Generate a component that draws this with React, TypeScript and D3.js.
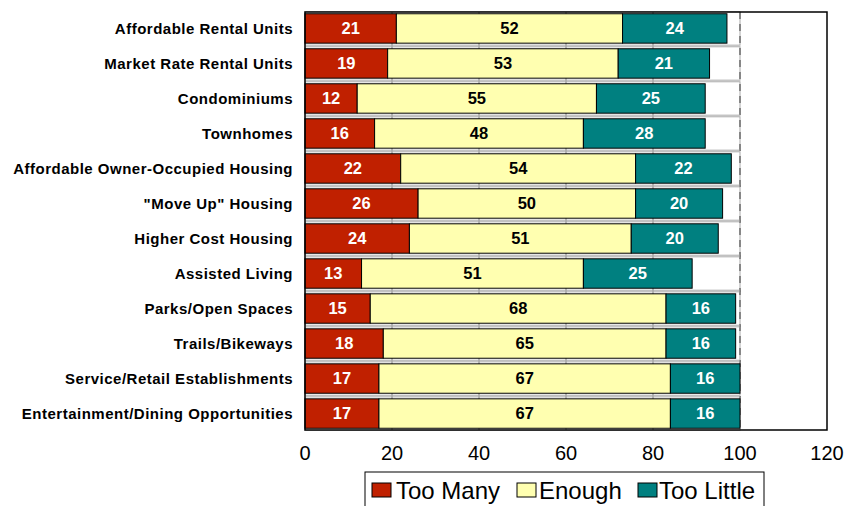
import React from 'react';
import * as d3 from 'd3';

// survey answers, percent of respondents
const categories = [
  'Affordable Rental Units',
  'Market Rate Rental Units',
  'Condominiums',
  'Townhomes',
  'Affordable Owner-Occupied Housing',
  '"Move Up" Housing',
  'Higher Cost Housing',
  'Assisted Living',
  'Parks/Open Spaces',
  'Trails/Bikeways',
  'Service/Retail Establishments',
  'Entertainment/Dining Opportunities',
];
const tooMany = [21, 19, 12, 16, 22, 26, 24, 13, 15, 18, 17, 17];
const enough = [52, 53, 55, 48, 54, 50, 51, 51, 68, 65, 67, 67];
const tooLittle = [24, 21, 25, 28, 22, 20, 20, 25, 16, 16, 16, 16];
const seriesNames = ['Too Many', 'Enough', 'Too Little'];
const xTicks = [0, 20, 40, 60, 80, 100, 120];

const colors = ['#C02000', '#FFFFB0', '#008080'];
const labelColors = ['#fff', '#000', '#fff'];
const font = 'Liberation Sans, Arial, sans-serif';

const W = 849;
const H = 506;
const plot = { left: 305, right: 827, top: 12, bottom: 430 };

export default function App() {
  const x = d3.scaleLinear().domain([0, 120]).range([plot.left, plot.right]);
  const y = d3.scaleBand<string>()
    .domain(categories)
    .range([plot.top, plot.bottom])
    .paddingInner(0.16)
    .paddingOuter(0.05);

  const rows = categories.map((c, i) => ({ category: c, 'Too Many': tooMany[i], Enough: enough[i], 'Too Little': tooLittle[i] }));
  const stacked = d3.stack<any>().keys(seriesNames)(rows);
  const bw = y.bandwidth();

  // legend layout
  const legendItems = [
    { name: seriesNames[0], sx: 372, tx: 396 },
    { name: seriesNames[1], sx: 517, tx: 539 },
    { name: seriesNames[2], sx: 638, tx: 659 },
  ];

  return (
    <div style={{ position: 'absolute', left: 0, top: 0 }}>
      <svg width={W} height={H} style={{ display: 'block', background: '#fff' }} fontFamily={font}>
        {/* gridlines */}
        {xTicks.filter(t => t > 0 && t < 100).map(t => (
          <line key={t} x1={x(t)} x2={x(t)} y1={plot.top} y2={plot.bottom} stroke="#777" strokeWidth={1} />
        ))}
        <line x1={x(100)} x2={x(100)} y1={plot.top} y2={plot.bottom} stroke="#333" strokeWidth={1.5} strokeDasharray="7,5" />

        {/* shadow outlines behind bars */}
        {categories.map(c => (
          <rect key={c} x={x(0)} y={(y(c) as number) - 2} width={x(100) - x(0)} height={bw + 4}
            fill="none" stroke="#a8a8a8" strokeWidth={1} />
        ))}

        {stacked.map((s, si) => (
          <g key={s.key}>
            {s.map((d, i) => (
              <rect key={i} x={x(d[0])} y={y(categories[i])} width={x(d[1]) - x(d[0])} height={bw}
                fill={colors[si]} stroke="#000" strokeWidth={1} />
            ))}
            {s.map((d, i) => (
              <text key={'t' + i} x={(x(d[0]) + x(d[1])) / 2} y={(y(categories[i]) as number) + bw / 2}
                dy="0.36em" textAnchor="middle" fontWeight="bold" fontSize={16.5} fill={labelColors[si]}>
                {d[1] - d[0]}
              </text>
            ))}
          </g>
        ))}

        {/* frame */}
        <rect x={plot.left} y={plot.top} width={plot.right - plot.left} height={plot.bottom - plot.top}
          fill="none" stroke="#000" strokeWidth={1.5} />

        {/* category labels */}
        {categories.map(c => (
          <text key={c} x={plot.left - 12} y={(y(c) as number) + bw / 2} dy="0.36em" textAnchor="end"
            fontWeight="bold" fontSize={15} letterSpacing={0.5} fill="#000">{c}</text>
        ))}

        {/* x tick labels */}
        {xTicks.map(t => (
          <text key={t} x={x(t)} y={460} textAnchor="middle" fontSize={20} fill="#000">{t}</text>
        ))}

        {/* legend */}
        <rect x={365} y={472} width={399} height={40} fill="#fff" stroke="#000" strokeWidth={1} />
        {legendItems.map((it, i) => (
          <g key={it.name}>
            <rect x={it.sx} y={483} width={19} height={14} fill={colors[i]} stroke="#000" strokeWidth={1} />
            <text x={it.tx} y={499} fontSize={24} fill="#000">{it.name}</text>
          </g>
        ))}
      </svg>
    </div>
  );
}
